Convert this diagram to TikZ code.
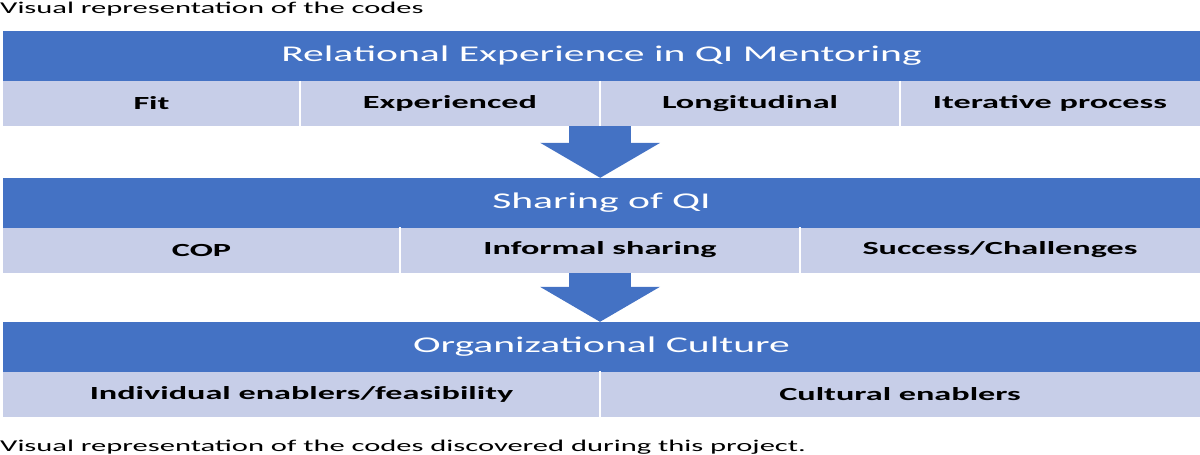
\documentclass[tikz,border=0pt]{standalone}
\usepackage{fontspec}
\setmainfont{Carlito}
\newfontfamily\widefont[FakeStretch=1.85]{Carlito}
\usetikzlibrary{arrows.meta, positioning}
\definecolor{headblue}{HTML}{4472C4}
\definecolor{cellblue}{HTML}{C7CEE8}

\begin{document}
\begin{tikzpicture}[x=1pt, y=-1pt,
    header/.style={fill=headblue, text=white, minimum width=1197pt, minimum height=50pt, inner sep=0pt, font=\widefont\fontsize{22.5}{27}\selectfont},
    cell/.style={fill=cellblue, minimum height=45pt, inner sep=0pt, font=\widefont\fontsize{18.5}{22}\selectfont\bfseries},
    caption/.style={anchor=base west, inner sep=0pt, font=\widefont\fontsize{16.5}{20}\selectfont},
    flow/.style={headblue, line width=62pt, -{Triangle[width=120pt, length=35pt, line width=0pt]}},
    sep/.style={white, line width=1.5pt}]
    \useasboundingbox (0, 0) rectangle (1200, 455);

    % Caption above
    \node[caption] (title) at (0, 13) {Visual representation of the codes};

    % Band 1: relational experience
    \node[header] (rel) at (601.5, 56) {Relational Experience in QI Mentoring};
    \node[cell, minimum width=297pt] (fit) at (151.5, 103.5) {Fit};
    \node[cell, minimum width=300pt] (exp) at (450, 103.5) {Experienced};
    \node[cell, minimum width=300pt] (lon) at (750, 103.5) {Longitudinal};
    \node[cell, minimum width=300pt] (ite) at (1050, 103.5) {Iterative process};
    \draw[sep] (fit.north east) -- (fit.south east);
    \draw[sep] (exp.north east) -- (exp.south east);
    \draw[sep] (lon.north east) -- (lon.south east);

    % Band 2: sharing
    \node[header] (share) at (601.5, 203) {Sharing of QI};
    \node[cell, minimum width=397pt] (cop) at (201.5, 250) {COP};
    \node[cell, minimum width=400pt] (inf) at (600, 250) {Informal sharing};
    \node[cell, minimum width=400pt] (suc) at (1000, 250) {Success/Challenges};
    \draw[sep] (cop.north east) -- (cop.south east);
    \draw[sep] (inf.north east) -- (inf.south east);

    % Band 3: culture
    \node[header] (org) at (601.5, 347) {Organizational Culture};
    \node[cell, minimum width=597pt] (ind) at (301.5, 394) {Individual enablers/feasibility};
    \node[cell, minimum width=600pt] (cul) at (900, 394) {Cultural enablers};
    \draw[sep] (ind.north east) -- (ind.south east);

    % Block arrows between bands
    \draw[flow] (exp.south east) -- (exp.south east |- share.north);
    \draw[flow] (inf.south) -- (inf.south |- org.north);

    % Caption below
    \node[caption] (note) at (0, 451) {Visual representation of the codes discovered during this project.};
\end{tikzpicture}
\end{document}
